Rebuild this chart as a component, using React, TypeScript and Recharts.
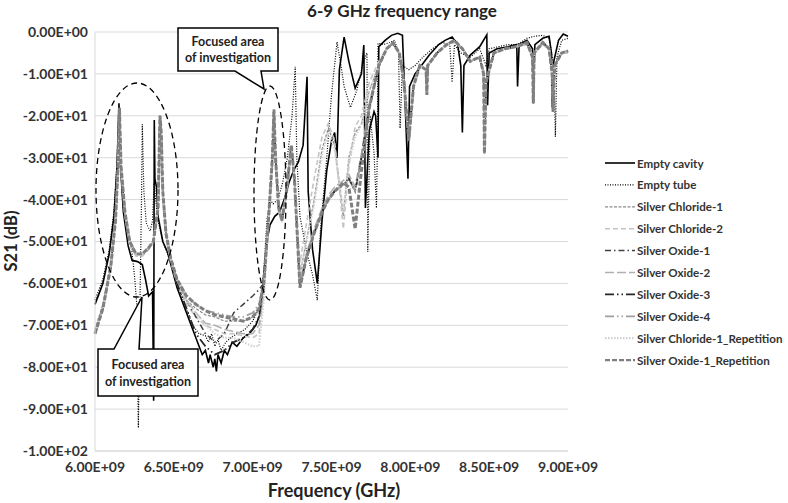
import { LineChart, Line, XAxis, YAxis, CartesianGrid } from 'recharts'

// frequency grid (GHz) shared by the silver sample sweeps
const GRAY_FREQ = [
  6.0, 6.05, 6.1, 6.13, 6.145, 6.155, 6.165, 6.19, 6.22, 6.26,
  6.3, 6.34, 6.37, 6.4, 6.412, 6.42, 6.43, 6.45, 6.48, 6.52,
  6.58, 6.64, 6.7, 6.76, 6.82, 6.88, 6.94, 7.0, 7.04, 7.07,
  7.1, 7.125, 7.135, 7.145, 7.165, 7.185, 7.215, 7.245, 7.265, 7.285,
  7.3, 7.34, 7.39, 7.44, 7.48, 7.52, 7.575, 7.61, 7.65, 7.69,
  7.74, 7.8, 7.85, 7.89, 7.93, 7.96, 7.99, 8.02, 8.06, 8.1,
  8.105, 8.11, 8.17, 8.23, 8.28, 8.33, 8.38, 8.44, 8.465, 8.47,
  8.48, 8.53, 8.6, 8.67, 8.74, 8.775, 8.78, 8.785, 8.84, 8.88,
  8.9, 8.905, 8.915, 8.96, 9.0,
]

// S21 (dB) per silver sample, one value per GRAY_FREQ entry
const SILVER_CHLORIDE_1 = [
  -71, -65, -55, -44, -33, -19, -32, -43, -50, -53,
  -53, -51.5, -50, -42, -21, -24, -38, -48, -54, -59,
  -64, -66, -67.5, -68, -69, -69, -69, -68, -66, -60,
  -45, -30, -19, -30, -42, -45, -38, -27, -35, -50,
  -58, -50, -40, -28, -23, -27, -44, -30, -24, -22,
  -14, -8, -4, -2.8, -5, -12, -25, -13, -8, -9,
  -15, -8, -5, -3, -2.2, -4, -7, -6, -10, -28,
  -12, -5, -4, -3.5, -3, -6, -17, -5, -3, -4,
  -10, -18, -8, -5, -5,
]
const SILVER_CHLORIDE_2 = [
  -72, -66, -56, -45, -34, -19, -33, -44, -51, -53.5,
  -53.5, -52, -50, -43, -21, -25, -39, -49, -55, -60,
  -65, -68, -70, -71, -72, -72, -72.5, -73, -72, -62,
  -46, -31, -19, -31, -43, -45, -39, -28, -36, -50,
  -55, -46, -35, -25, -21.8, -26, -47, -32, -22.6, -20,
  -12, -7, -4, -3, -5, -12, -26, -13, -8, -9,
  -14, -8, -5, -3, -2.5, -4, -7, -6, -10, -28,
  -12, -5, -4, -3.5, -3, -6, -16, -5, -3, -4,
  -10, -18, -8, -5, -5,
]
const SILVER_OXIDE_1 = [
  -72, -66, -56, -45, -33, -18, -32, -43, -50, -53,
  -53, -51.5, -50, -42, -20, -24, -38, -48, -54, -59,
  -64, -68, -72, -74, -72, -67, -65, -63, -61.5, -60,
  -45, -30, -19, -30, -42, -45, -38, -27, -35, -50,
  -61, -54, -48, -43, -40, -38, -36.5, -35, -38, -30,
  -18, -8, -4, -2.6, -5, -12, -26, -13, -8, -9,
  -15, -8, -5, -3, -2, -4, -7, -6, -10, -29,
  -12, -5, -4, -3.5, -2.5, -6, -17, -5, -2.5, -4,
  -10, -19, -8, -5, -4.5,
]
const SILVER_OXIDE_2 = [
  -72, -66, -56, -45, -33, -18.5, -32, -43, -50, -53,
  -53, -51.5, -50, -42, -20.5, -24, -38, -48, -54, -59,
  -64, -67, -69.5, -70, -71, -71.5, -72, -72, -70, -62,
  -45, -30, -19, -30, -42, -45, -38, -27, -35, -50,
  -60, -53, -47, -42, -39, -37, -35.5, -34, -37, -29,
  -17, -8, -4, -2.6, -5, -12, -26, -13, -8, -9,
  -15, -8, -5, -3, -2, -4, -7, -6, -10, -29,
  -12, -5, -4, -3.5, -2.5, -6, -17, -5, -2.5, -4,
  -10, -19, -8, -5, -4.5,
]
const SILVER_OXIDE_3 = [
  -72, -66, -56, -45, -33, -18, -32, -43, -50, -53,
  -53, -51.5, -50, -42, -20, -24, -38, -48, -54, -60,
  -66, -72, -75, -77, -76, -74, -73, -71, -68, -61,
  -45, -30, -19, -30, -42, -45, -38, -27, -35, -50,
  -61, -54, -48, -43, -40, -38, -36.5, -35, -38, -30,
  -18, -8, -4, -2.6, -5, -12, -26, -13, -8, -9,
  -15, -8, -5, -3, -2, -4, -7, -6, -10, -29,
  -12, -5, -4, -3.5, -2.5, -6, -17, -5, -2.5, -4,
  -10, -19, -8, -5, -4.5,
]
const SILVER_OXIDE_4 = [
  -72, -66, -56, -45, -33, -18, -32, -43, -50, -53,
  -53, -51.5, -50, -42, -20, -24, -38, -48, -54, -59,
  -63, -65, -66.5, -67, -67.5, -68, -68, -67, -65, -60,
  -45, -30, -18.5, -30, -42, -45, -38, -27, -35, -50,
  -61, -54, -48, -43, -40, -38, -36.5, -35, -38, -30,
  -18, -8, -4, -2.6, -5, -12, -26, -13, -8, -9,
  -15, -8, -5, -3, -2, -4, -7, -6, -10, -29,
  -12, -5, -4, -3.5, -2.5, -6, -17, -5, -2.5, -4,
  -10, -19, -8, -5, -4.5,
]
const SILVER_CHLORIDE_1_REP = [
  -72, -66, -56, -45, -33, -19, -32, -43, -50, -53,
  -53, -51.5, -50, -42, -21, -24, -38, -48, -54, -59,
  -64, -67, -70, -72, -73, -73, -74, -75, -75, -64,
  -46, -30, -19, -30, -42, -45, -38, -27, -35, -50,
  -58, -50, -41, -29, -24, -28, -43, -31, -25, -22,
  -14, -8, -4, -2.8, -5, -12, -25, -13, -8, -9,
  -15, -8, -5, -3, -2.2, -4, -7, -6, -10, -28,
  -12, -5, -4, -3.5, -3, -6, -17, -5, -3, -4,
  -10, -18, -8, -5, -5,
]
const SILVER_OXIDE_1_REP = [
  -72, -66, -56, -45, -33, -18, -32, -43, -50, -53,
  -53, -51.5, -50, -42, -20, -24, -38, -48, -54, -59,
  -63, -65, -66.5, -67.5, -68, -68.5, -69, -68, -66, -60,
  -45, -30, -18.5, -30, -42, -45, -38, -27, -35, -50,
  -61, -54, -48, -43, -40, -38, -36, -37, -47, -33,
  -18, -8, -4, -2.6, -5, -12, -26, -13, -8, -9,
  -15, -8, -5, -3, -2, -4, -7, -6, -10, -29,
  -12, -5, -4, -3.5, -2.5, -6, -17, -5, -2.5, -4,
  -10, -19, -8, -5, -4.5,
]

// [GHz, dB] sweeps of the reference measurements
const EMPTY_CAVITY = [
  [6.0, -65], [6.05, -60], [6.09, -53], [6.12, -44], [6.14, -32], [6.152, -17],
  [6.162, -32], [6.18, -43], [6.21, -51], [6.235, -54.5], [6.27, -54.8], [6.3, -55.5],
  [6.32, -59], [6.34, -63], [6.365, -62], [6.372, -88], [6.376, -21], [6.38, -35],
  [6.39, -37], [6.4, -44], [6.43, -50], [6.46, -52.5], [6.52, -61], [6.58, -67],
  [6.62, -71], [6.66, -75], [6.68, -77], [6.7, -76], [6.72, -79], [6.73, -77],
  [6.75, -80], [6.76, -78], [6.77, -81], [6.78, -77], [6.8, -79], [6.82, -76],
  [6.84, -77], [6.87, -74], [6.9, -75], [6.94, -73], [6.98, -72], [7.02, -70],
  [7.05, -67], [7.07, -58], [7.09, -50], [7.11, -46], [7.14, -44], [7.17, -43],
  [7.2, -40], [7.23, -36], [7.26, -33], [7.29, -31], [7.32, -27], [7.345, -10.7],
  [7.352, -38], [7.36, -42], [7.38, -52], [7.41, -60], [7.44, -45], [7.47, -33],
  [7.5, -26], [7.52, -24], [7.535, -30], [7.55, -9], [7.58, -1.2], [7.61, -7],
  [7.65, -13.4], [7.69, -10], [7.705, -3.1], [7.715, -42], [7.74, -23.4], [7.77, -19],
  [7.78, -20], [7.795, -30], [7.8, -3.5], [7.84, -2], [7.88, -0.8], [7.92, -0.3],
  [7.95, -0.8], [7.97, -20], [7.985, -35], [7.995, -13], [8.03, -10], [8.08, -7.5],
  [8.12, -5.5], [8.18, -3], [8.22, -2], [8.265, -1.2], [8.3, -3], [8.32, -8],
  [8.33, -24], [8.34, -8], [8.38, -5.5], [8.44, -3.5], [8.485, -0.7], [8.49, -17.5],
  [8.5, -5], [8.55, -4], [8.62, -3.5], [8.675, -3], [8.68, -13], [8.69, -3],
  [8.74, -2], [8.775, -4], [8.78, -15], [8.79, -3], [8.84, -1.5], [8.88, -1],
  [8.895, -5], [8.9, -18], [8.91, -7], [8.94, -2], [8.97, -0.5], [9.0, -1],
]
const EMPTY_TUBE = [
  [6.0, -64], [6.05, -59], [6.09, -52], [6.12, -43], [6.14, -31], [6.152, -18],
  [6.162, -32], [6.18, -42], [6.2, -47], [6.23, -51], [6.25, -58], [6.265, -65],
  [6.275, -94.5], [6.285, -65], [6.295, -40], [6.3, -22], [6.31, -38], [6.325, -45.6],
  [6.35, -47.5], [6.365, -45], [6.375, -36], [6.385, -40], [6.4, -45], [6.43, -50],
  [6.46, -53], [6.52, -60], [6.58, -66], [6.62, -70], [6.66, -72], [6.7, -72.5],
  [6.72, -74], [6.74, -72], [6.76, -75], [6.78, -73.5], [6.8, -76], [6.83, -74],
  [6.86, -73], [6.9, -72], [6.95, -71], [7.0, -69], [7.04, -66], [7.07, -58],
  [7.09, -45], [7.11, -40], [7.13, -41], [7.16, -40], [7.19, -36], [7.22, -30],
  [7.25, -20], [7.27, -8.3], [7.28, -30], [7.3, -44], [7.34, -52], [7.38, -58],
  [7.41, -64], [7.43, -47], [7.47, -30], [7.5, -15], [7.535, -2.4], [7.56, -8],
  [7.58, -13], [7.62, -18], [7.66, -14], [7.7, -7.5], [7.725, -5], [7.73, -52.5],
  [7.745, -20], [7.77, -29], [7.785, -42], [7.79, -30], [7.795, -2.7], [7.83, -3],
  [7.87, -2.5], [7.9, -2], [7.925, -5], [7.935, -23], [7.95, -8], [7.99, -9],
  [8.03, -8], [8.08, -6], [8.14, -4], [8.2, -2.5], [8.25, -3], [8.265, -12],
  [8.28, -3], [8.32, -5], [8.38, -6], [8.44, -4], [8.48, -8], [8.5, -4],
  [8.56, -3.5], [8.62, -3], [8.68, -3], [8.74, -1.5], [8.79, -1], [8.84, -0.8],
  [8.88, -1.5], [8.91, -8], [8.92, -25], [8.93, -6], [8.96, -2], [9.0, -1.5],
]

const X_TICKS = [6, 6.5, 7, 7.5, 8, 8.5, 9]
const Y_TICKS = [0, -10, -20, -30, -40, -50, -60, -70, -80, -90, -100]

const fromGrid = (vals: number[]) => GRAY_FREQ.map((f, i) => ({ f, v: vals[i] }))
const fromPairs = (pairs: number[][]) => pairs.map(([f, v]) => ({ f, v }))

const SERIES = [
  { name: 'Empty cavity', color: '#000000', width: 1.6, dash: undefined, data: fromPairs(EMPTY_CAVITY) },
  { name: 'Empty tube', color: '#000000', width: 1.2, dash: '1 1.5', data: fromPairs(EMPTY_TUBE) },
  { name: 'Silver Chloride-1', color: '#8c8c8c', width: 1.3, dash: '3 1.5', data: fromGrid(SILVER_CHLORIDE_1) },
  { name: 'Silver Chloride-2', color: '#c4c4c4', width: 1.6, dash: '5 3', data: fromGrid(SILVER_CHLORIDE_2) },
  { name: 'Silver Oxide-1', color: '#404040', width: 1.5, dash: '6 3 1.5 3', data: fromGrid(SILVER_OXIDE_1) },
  { name: 'Silver Oxide-2', color: '#b0b0b0', width: 1.6, dash: '9 3', data: fromGrid(SILVER_OXIDE_2) },
  { name: 'Silver Oxide-3', color: '#262626', width: 1.8, dash: '9 3 1.5 3 1.5 3', data: fromGrid(SILVER_OXIDE_3) },
  { name: 'Silver Oxide-4', color: '#a0a0a0', width: 1.8, dash: '9 3 1.5 3 1.5 3', data: fromGrid(SILVER_OXIDE_4) },
  { name: 'Silver Chloride-1_Repetition', color: '#d0d0d0', width: 2.2, dash: '1.5 1.5', data: fromGrid(SILVER_CHLORIDE_1_REP) },
  { name: 'Silver Oxide-1_Repetition', color: '#7f7f7f', width: 3, dash: '5 2', data: fromGrid(SILVER_OXIDE_1_REP) },
]

// Excel-style scientific labels, e.g. 6.00E+09
function sci(v: number) {
  const [m, e] = v.toExponential(2).split('e')
  const n = parseInt(e, 10)
  return `${m}E${n < 0 ? '-' : '+'}${String(Math.abs(n)).padStart(2, '0')}`
}

const FONT = 'Lato, "Open Sans", sans-serif'

export default function App() {
  return (
    <div style={{ position: 'absolute', left: 0, top: 0, width: 788, height: 503, background: '#fff', fontFamily: FONT }}>
      <LineChart width={788} height={503} margin={{ top: 32, right: 220, bottom: 0, left: 0 }}>
        <CartesianGrid vertical={false} stroke="#d9d9d9" />
        <XAxis
          type="number"
          dataKey="f"
          domain={[6, 9]}
          ticks={X_TICKS}
          tickFormatter={(v) => sci(v * 1e9)}
          height={52}
          axisLine={{ stroke: '#d9d9d9' }}
          tickLine={false}
          tickSize={0}
          tickMargin={11}
          tick={{ fill: '#333', fontSize: 14, fontWeight: 700, fontFamily: FONT }}
        />
        <YAxis
          type="number"
          domain={[-100, 0]}
          ticks={Y_TICKS}
          tickFormatter={sci}
          width={95}
          axisLine={{ stroke: '#d9d9d9' }}
          tickLine={false}
          tickSize={0}
          tickMargin={7}
          tick={{ fill: '#333', fontSize: 14, fontWeight: 700, fontFamily: FONT }}
        />
        {SERIES.map((s) => (
          <Line
            key={s.name}
            name={s.name}
            data={s.data}
            dataKey="v"
            type="linear"
            stroke={s.color}
            strokeWidth={s.width}
            strokeDasharray={s.dash}
            dot={false}
            activeDot={false}
            isAnimationActive={false}
          />
        ))}
      </LineChart>

      <svg width={788} height={503} style={{ position: 'absolute', left: 0, top: 0, pointerEvents: 'none' }}>
        <text x={402} y={17} textAnchor="middle" fontSize={17} fontWeight={700} fill="#222">
          6-9 GHz frequency range
        </text>
        <text transform="translate(17,241) rotate(-90)" textAnchor="middle" fontSize={16.5} fontWeight={700} fill="#222">
          S21 (dB)
        </text>
        <text x={334} y={497} textAnchor="middle" fontSize={18} fontWeight={700} fill="#222">
          Frequency (GHz)
        </text>

        {/* focus ellipses */}
        <ellipse cx={137} cy={190} rx={41} ry={107} fill="none" stroke="#000" strokeWidth={1.3} strokeDasharray="6 4" />
        <ellipse cx={270} cy={193} rx={16} ry={107} fill="none" stroke="#000" strokeWidth={1.3} strokeDasharray="6 4" />

        {/* callouts */}
        <path d="M178,28 H278 V71 H261 L264,89 L235,71 H178 Z" fill="#fff" stroke="#000" strokeWidth={1.5} />
        <text x={228} y={46} textAnchor="middle" fontSize={12.5} fontWeight={700} fill="#222">Focused area</text>
        <text x={228} y={62} textAnchor="middle" fontSize={12.5} fontWeight={700} fill="#222">of investigation</text>
        <path d="M98,349 H114 L142,297 L139,349 H198 V396 H98 Z" fill="#fff" stroke="#000" strokeWidth={1.5} />
        <text x={148} y={369} textAnchor="middle" fontSize={12.5} fontWeight={700} fill="#222">Focused area</text>
        <text x={148} y={386} textAnchor="middle" fontSize={12.5} fontWeight={700} fill="#222">of investigation</text>

        {/* legend */}
        {SERIES.map((s, i) => {
          const y = 163 + i * 21.9
          return (
            <g key={s.name}>
              <line x1={605} x2={635} y1={y} y2={y} stroke={s.color} strokeWidth={Math.min(s.width, 2.4)} strokeDasharray={s.dash} />
              <text x={637} y={y + 4.5} fontSize={11.6} fontWeight={700} fill="#333">
                {s.name}
              </text>
            </g>
          )
        })}
      </svg>
    </div>
  )
}
